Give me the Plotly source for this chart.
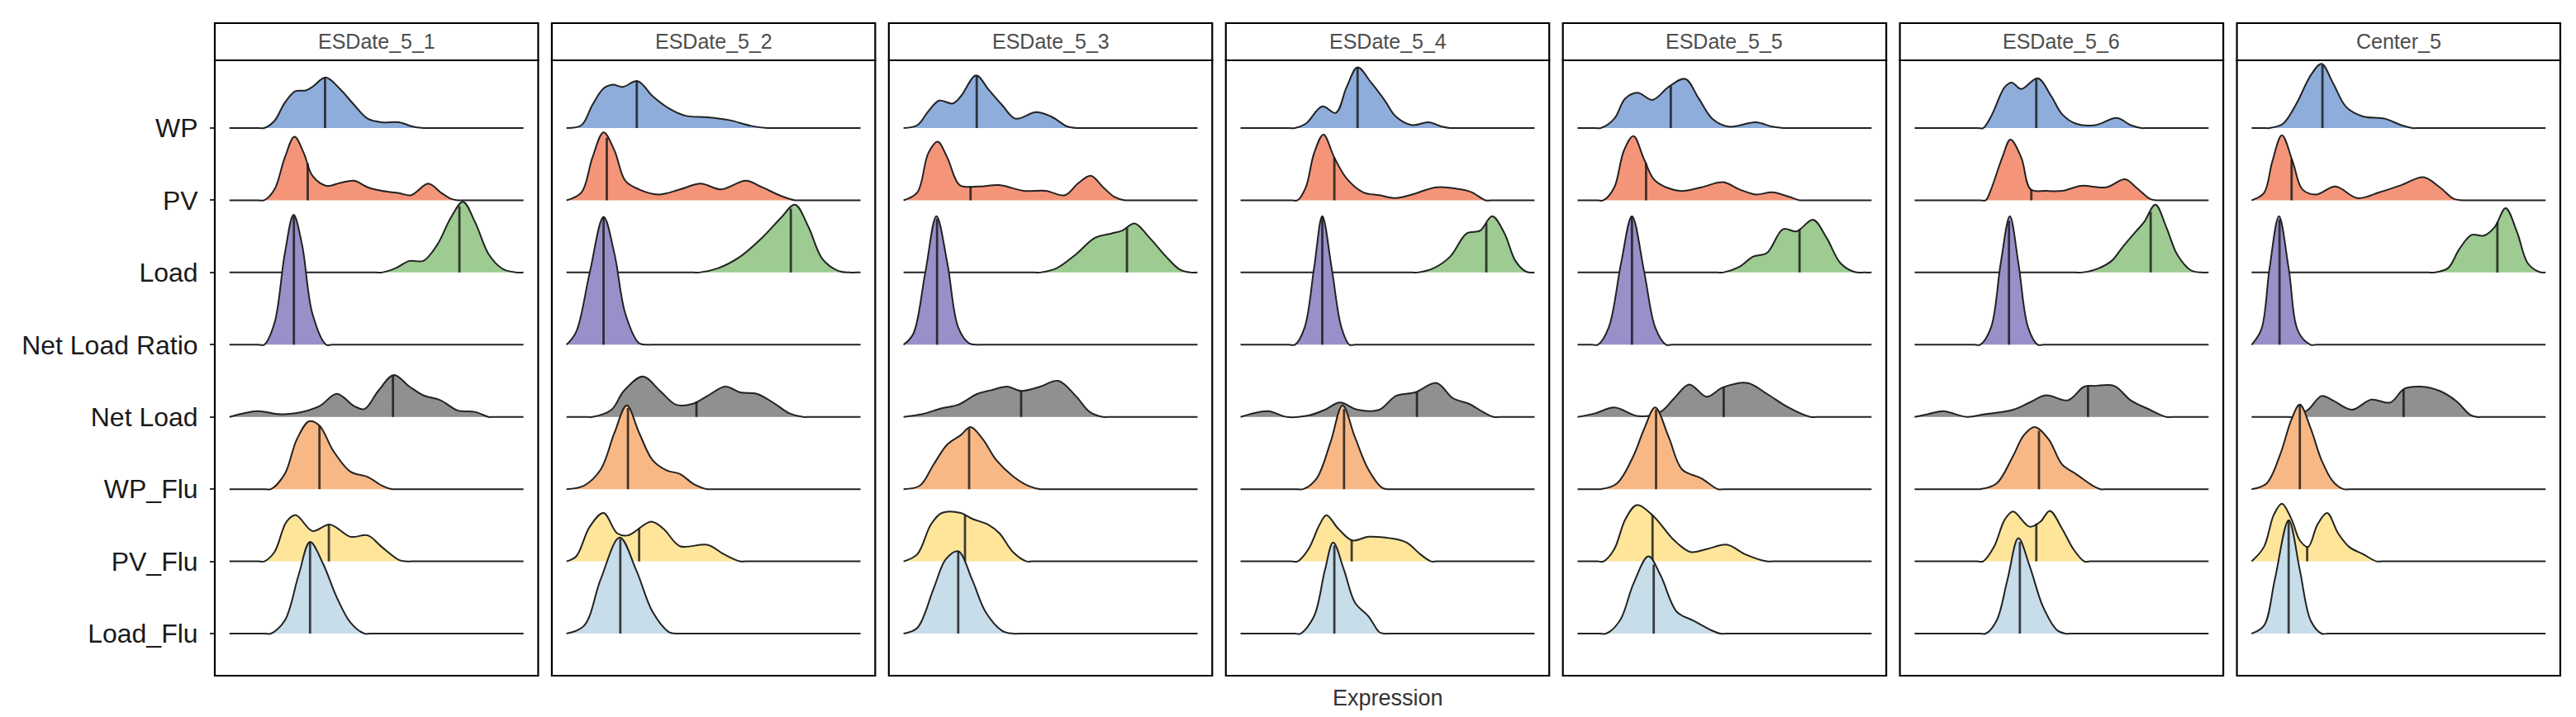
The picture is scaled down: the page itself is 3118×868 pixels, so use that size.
import numpy as np
import plotly.graph_objects as go

# facet titles and ridge rows (top to bottom)
panels = ["ESDate_5_1", "ESDate_5_2", "ESDate_5_3", "ESDate_5_4", "ESDate_5_5", "ESDate_5_6", "Center_5"]
rows = ["WP", "PV", "Load", "Net Load Ratio", "Net Load", "WP_Flu", "PV_Flu", "Load_Flu"]
colors = ["#8EADDB", "#F4957A", "#9DCB92", "#9B8FC9", "#909090", "#F8B886", "#FEE59A", "#C7DDEA"]

# density outlines: (expression, height in row units)
esdate_5_1 = {
    "WP": [(11.8, 0), (15.3, 0.1), (18.8, 0.35), (22.4, 0.51), (25.9, 0.52), (28.2, 0.57), (32.7, 0.70), (37.6, 0.54), (42.4, 0.32), (47, 0.13), (51.8, 0.08), (57.6, 0.08), (62.4, 0.02), (65.9, 0)],
    "PV": [(11.8, 0), (15.3, 0.15), (18.8, 0.59), (22.1, 0.88), (25.3, 0.65), (28.2, 0.34), (32.9, 0.2), (37.6, 0.24), (42.4, 0.27), (47, 0.18), (51.8, 0.13), (57.6, 0.10), (61.8, 0.07), (67.6, 0.23), (71.8, 0.11), (75.3, 0.02), (77.6, 0)],
    "Load": [(51.8, 0), (56.5, 0.06), (61.2, 0.16), (65.9, 0.16), (70.6, 0.38), (75.3, 0.76), (79.4, 0.98), (83.5, 0.70), (88.2, 0.25), (92.9, 0.05), (97.6, 0)],
    "Net Load Ratio": [(11.8, 0), (15.3, 0.30), (18.8, 1.26), (21.8, 1.80), (24.7, 1.38), (28.2, 0.43), (32.9, 0)],
    "Net Load": [(0, 0), (9.4, 0.08), (16.5, 0.04), (22.4, 0.05), (30.6, 0.15), (36.5, 0.32), (42.4, 0.15), (45.9, 0.11), (50.6, 0.36), (55.9, 0.58), (61.2, 0.42), (65.9, 0.30), (71.8, 0.23), (77.6, 0.09), (83.5, 0.07), (88.2, 0)],
    "WP_Flu": [(14.1, 0), (18.8, 0.21), (22.9, 0.69), (27.1, 0.94), (30.6, 0.88), (35.3, 0.53), (41.2, 0.24), (47, 0.17), (51.8, 0.05), (55.3, 0)],
    "PV_Flu": [(11.8, 0), (15.3, 0.13), (19.4, 0.55), (22.6, 0.64), (28.2, 0.42), (34.1, 0.51), (41.2, 0.34), (47, 0.36), (51.8, 0.2), (57.6, 0.02), (60, 0)],
    "Load_Flu": [(14.1, 0), (18.8, 0.18), (23.5, 0.81), (27.4, 1.27), (31.8, 0.97), (36.5, 0.50), (41.2, 0.15), (45.9, 0)],
}
esdate_5_2 = {
    "WP": [(0, 0), (5.1, 0.04), (8.8, 0.32), (12.6, 0.55), (15.8, 0.60), (19.1, 0.57), (24.2, 0.65), (29.3, 0.44), (34.9, 0.27), (40.5, 0.17), (47.9, 0.15), (55.3, 0.11), (62.8, 0.03), (68.4, 0)],
    "PV": [(0, 0), (5.1, 0.11), (8.8, 0.59), (12.6, 0.94), (16.3, 0.69), (20, 0.27), (24.7, 0.15), (31.2, 0.08), (38.6, 0.15), (45.6, 0.23), (52.6, 0.15), (61, 0.27), (66.5, 0.18), (73, 0.06), (77.7, 0)],
    "Load": [(45.1, 0), (51.6, 0.06), (59.1, 0.22), (66.5, 0.48), (73, 0.76), (77.7, 0.94), (82.3, 0.63), (87, 0.19), (92.6, 0.02), (96.3, 0)],
    "Net Load Ratio": [(0, 0), (3.3, 0.18), (7.9, 1.0), (12.6, 1.77), (16.3, 1.26), (20, 0.43), (24.7, 0.02), (27.4, 0)],
    "Net Load": [(8.8, 0), (15.3, 0.1), (19.5, 0.36), (26, 0.56), (31.6, 0.37), (37.2, 0.17), (42.8, 0.18), (47.9, 0.29), (54, 0.42), (59.1, 0.34), (64.7, 0.32), (70.2, 0.2), (75.8, 0.05), (80.5, 0)],
    "WP_Flu": [(0, 0), (6, 0.05), (11.6, 0.27), (16.3, 0.78), (20.5, 1.16), (24.7, 0.78), (29.3, 0.4), (34, 0.26), (38.6, 0.21), (43.3, 0.07), (47.9, 0)],
    "PV_Flu": [(0, 0), (3.3, 0.07), (7.9, 0.48), (12.6, 0.67), (17.2, 0.39), (20.9, 0.36), (28.8, 0.55), (33, 0.45), (38.6, 0.21), (47.9, 0.23), (53.5, 0.1), (59, 0)],
    "Load_Flu": [(0, 0), (6, 0.11), (11.6, 0.75), (18.1, 1.33), (23.7, 0.88), (29.3, 0.3), (34.9, 0.02), (37.7, 0)],
}
esdate_5_3 = {
    "WP": [(0, 0), (4.7, 0.04), (8.4, 0.23), (12.1, 0.38), (16.7, 0.34), (19.5, 0.44), (24.7, 0.73), (28.8, 0.54), (33.5, 0.32), (38.1, 0.13), (45.1, 0.22), (50.2, 0.16), (55.8, 0.02), (59.5, 0)],
    "PV": [(0, 0), (4.7, 0.11), (8.4, 0.65), (11.6, 0.81), (14.9, 0.59), (19.1, 0.21), (25.1, 0.19), (32.6, 0.21), (40.9, 0.13), (48.4, 0.13), (54.9, 0.07), (59.5, 0.24), (63.7, 0.34), (67.9, 0.18), (71.6, 0.05), (75.3, 0)],
    "Load": [(46.5, 0), (52.1, 0.06), (58.6, 0.25), (65.1, 0.48), (70.7, 0.54), (74.4, 0.58), (78.6, 0.68), (83.7, 0.48), (89.3, 0.22), (94, 0.04), (97.7, 0)],
    "Net Load Ratio": [(0, 0), (3.3, 0.15), (7.4, 1.0), (11.2, 1.78), (14.9, 1.13), (18.6, 0.24), (22.3, 0.02), (25, 0)],
    "Net Load": [(0, 0), (6.5, 0.04), (13, 0.12), (18.6, 0.17), (25.1, 0.32), (29.8, 0.37), (35.3, 0.42), (40, 0.36), (46.5, 0.42), (52.6, 0.5), (58.6, 0.29), (63.3, 0.07), (67.9, 0)],
    "WP_Flu": [(0, 0), (5.6, 0.05), (10.2, 0.34), (14.9, 0.62), (19.5, 0.75), (22.8, 0.86), (27, 0.69), (31.6, 0.4), (37.2, 0.18), (42.8, 0.04), (46.5, 0)],
    "PV_Flu": [(0, 0), (4.7, 0.1), (9.3, 0.51), (13, 0.67), (19.5, 0.67), (23.3, 0.59), (28.8, 0.51), (32.6, 0.39), (37.2, 0.13), (41.9, 0)],
    "Load_Flu": [(0, 0), (4.7, 0.08), (10.2, 0.62), (14.4, 1.03), (18.6, 1.14), (23.3, 0.75), (27.9, 0.3), (33.5, 0.04), (37.2, 0)],
}
esdate_5_4 = {
    "WP": [(18.5, 0), (22.2, 0.06), (27.8, 0.3), (32.4, 0.21), (36.1, 0.57), (39.8, 0.84), (44.4, 0.63), (49.1, 0.38), (52.8, 0.16), (58.3, 0.04), (63.9, 0.08), (68.5, 0.02), (71.3, 0)],
    "PV": [(19.4, 0), (22.2, 0.18), (25, 0.65), (28.2, 0.91), (31.9, 0.59), (36.1, 0.3), (41.7, 0.11), (47.2, 0.07), (52.8, 0.03), (58.3, 0.08), (66.7, 0.18), (75, 0.15), (78.7, 0.11), (83.3, 0)],
    "Load": [(60.2, 0), (65.7, 0.06), (71.3, 0.22), (76.9, 0.54), (81.5, 0.58), (85.6, 0.78), (89.8, 0.54), (93.5, 0.16), (97.2, 0.01), (100, 0)],
    "Net Load Ratio": [(18.5, 0), (21.8, 0.24), (25, 1.06), (27.8, 1.78), (31, 1.06), (34.3, 0.24), (37, 0)],
    "Net Load": [(0, 0), (9.3, 0.08), (15.7, 0), (23.1, 0.02), (28.7, 0.1), (33.8, 0.2), (39.8, 0.1), (47.2, 0.1), (52.8, 0.29), (59.3, 0.34), (66.7, 0.47), (72.2, 0.26), (77.8, 0.18), (82.4, 0.07), (86.1, 0)],
    "WP_Flu": [(21.3, 0), (25.9, 0.15), (30.6, 0.65), (34.7, 1.16), (38.9, 0.72), (43.5, 0.27), (48.1, 0.02), (50, 0)],
    "PV_Flu": [(19.4, 0), (23.1, 0.17), (26.9, 0.51), (29.2, 0.64), (33.3, 0.45), (38, 0.29), (43.5, 0.34), (50.9, 0.32), (56.5, 0.26), (61.1, 0.1), (64.8, 0)],
    "Load_Flu": [(20.4, 0), (25, 0.24), (28.7, 0.88), (31.5, 1.26), (35.2, 0.88), (38.9, 0.43), (43.5, 0.24), (47.2, 0.02), (49, 0)],
}
esdate_5_5 = {
    "WP": [(7.9, 0), (12.5, 0.13), (16.2, 0.41), (20.4, 0.49), (25.5, 0.39), (31, 0.57), (36.6, 0.68), (41.2, 0.41), (45.8, 0.13), (51.4, 0.02), (60.6, 0.08), (66.2, 0.02), (70, 0)],
    "PV": [(8.8, 0), (12.5, 0.18), (15.7, 0.68), (19, 0.89), (22.7, 0.56), (26.4, 0.27), (34.7, 0.13), (42.1, 0.18), (49.5, 0.25), (55.1, 0.15), (60.6, 0.08), (66.2, 0.11), (71.8, 0.05), (75.5, 0)],
    "Load": [(49.5, 0), (55.1, 0.08), (59.7, 0.22), (64.4, 0.27), (69.9, 0.6), (74.5, 0.57), (80.1, 0.73), (84.7, 0.48), (89.4, 0.13), (94, 0.01), (97.7, 0)],
    "Net Load Ratio": [(6.9, 0), (10.6, 0.24), (14.8, 1.13), (18.5, 1.78), (22.7, 1.0), (26.4, 0.24), (30.1, 0)],
    "Net Load": [(0, 0), (6, 0.05), (12.5, 0.13), (20.8, 0.01), (28.2, 0.07), (32.9, 0.26), (38, 0.45), (43.9, 0.28), (49.5, 0.41), (57.9, 0.47), (64.4, 0.32), (71.8, 0.13), (79.2, 0)],
    "WP_Flu": [(7.9, 0), (13.4, 0.08), (19, 0.46), (22.7, 0.84), (26.4, 1.13), (31, 0.72), (35.6, 0.27), (42.1, 0.15), (47.7, 0)],
    "PV_Flu": [(8.8, 0), (12.5, 0.17), (16.2, 0.58), (20.1, 0.78), (25.5, 0.64), (32.9, 0.29), (38.4, 0.13), (43.9, 0.17), (50.9, 0.23), (56.9, 0.1), (64.4, 0)],
    "Load_Flu": [(9.7, 0), (14.4, 0.18), (19, 0.69), (24.1, 1.07), (28.2, 0.81), (33.8, 0.3), (39.4, 0.18), (45.8, 0.04), (48.6, 0)],
}
esdate_5_6 = {
    "WP": [(23.3, 0), (26, 0.16), (30.7, 0.57), (33, 0.63), (36.3, 0.54), (41.9, 0.69), (46.5, 0.44), (50.2, 0.19), (54.9, 0.06), (61.4, 0.04), (68.8, 0.14), (73.5, 0.04), (77.2, 0)],
    "PV": [(24.2, 0), (26, 0.15), (29.8, 0.59), (32.6, 0.84), (36.3, 0.59), (39.5, 0.15), (44.7, 0.13), (50.2, 0.13), (56.7, 0.2), (65.1, 0.18), (71.6, 0.29), (75.3, 0.18), (80, 0.02), (81.9, 0)],
    "Load": [(56.7, 0), (61.4, 0.04), (67, 0.16), (70.7, 0.35), (75.3, 0.57), (78.1, 0.7), (81.9, 0.94), (85.6, 0.63), (89.3, 0.25), (94, 0.03), (97.7, 0)],
    "Net Load Ratio": [(22.3, 0), (26, 0.24), (29.3, 1.13), (32.4, 1.78), (35.3, 1.13), (38.6, 0.24), (41.9, 0)],
    "Net Load": [(0, 0), (4.7, 0.04), (9.8, 0.08), (17.7, 0), (24.2, 0.04), (33.5, 0.1), (39.1, 0.2), (44.7, 0.3), (52.1, 0.23), (57.7, 0.42), (61.4, 0.43), (67.9, 0.43), (73.5, 0.23), (80, 0.1), (85.6, 0)],
    "WP_Flu": [(22.3, 0), (27.9, 0.08), (33.5, 0.46), (37.2, 0.75), (40.9, 0.86), (45.6, 0.69), (50.2, 0.34), (54.9, 0.21), (60.5, 0.05), (63.3, 0)],
    "PV_Flu": [(23.3, 0), (27, 0.2), (30.7, 0.58), (33.5, 0.69), (39.1, 0.48), (42.8, 0.55), (46, 0.70), (50.2, 0.45), (54, 0.17), (57.7, 0)],
    "Load_Flu": [(24.2, 0), (27.9, 0.18), (31.6, 0.75), (35.3, 1.32), (39.1, 0.94), (43.7, 0.37), (48.4, 0.05), (51.2, 0)],
}
center_5 = {
    "WP": [(6.1, 0), (10.7, 0.06), (15.4, 0.35), (20.1, 0.73), (23.8, 0.89), (27.6, 0.63), (32.2, 0.29), (37.9, 0.16), (45.3, 0.13), (50.9, 0.04), (54.7, 0)],
    "PV": [(0, 0), (4.2, 0.1), (7, 0.53), (10.3, 0.9), (14, 0.53), (17.3, 0.15), (21.9, 0.08), (28.5, 0.19), (36, 0.03), (43.5, 0.11), (50.9, 0.21), (58.4, 0.32), (64, 0.18), (68.7, 0.02), (71.5, 0)],
    "Load": [(62.1, 0), (66.8, 0.06), (70.6, 0.32), (74.8, 0.52), (79, 0.51), (82.7, 0.63), (86.4, 0.89), (90.2, 0.57), (93.9, 0.13), (97.7, 0.01), (100, 0)],
    "Net Load Ratio": [(0, 0), (3.3, 0.21), (6.1, 1.06), (9.3, 1.78), (12.6, 1.06), (15.9, 0.18), (20.1, 0)],
    "Net Load": [(14.5, 0), (19.2, 0.1), (23.8, 0.29), (27.6, 0.23), (34.1, 0.1), (40.7, 0.24), (47.2, 0.2), (51.9, 0.39), (57.5, 0.42), (64, 0.36), (69.6, 0.22), (74.3, 0.03), (76.6, 0)],
    "WP_Flu": [(0, 0), (5.1, 0.08), (9.8, 0.49), (13.6, 0.97), (16.4, 1.17), (20.1, 0.84), (23.8, 0.4), (27.6, 0.11), (31.3, 0)],
    "PV_Flu": [(0, 0), (4.2, 0.2), (7.5, 0.64), (10.3, 0.8), (13.6, 0.58), (16.4, 0.29), (19.2, 0.2), (22.4, 0.51), (25.7, 0.67), (29.4, 0.39), (33.2, 0.2), (37.9, 0.1), (42.5, 0)],
    "Load_Flu": [(0, 0), (4.2, 0.11), (7.9, 0.75), (12.6, 1.57), (16.4, 0.88), (20.1, 0.18), (23.8, 0)],
}
curves = [esdate_5_1, esdate_5_2, esdate_5_3, esdate_5_4, esdate_5_5, esdate_5_6, center_5]

# medians (vertical lines), one value per panel
median_wp = [32.5, 23.9, 24.9, 39.8, 31.7, 41.4, 24.1]
median_pv = [26.6, 13.7, 22.8, 31.9, 23.3, 39.7, 13.6]
median_load = [78.2, 76.3, 76.0, 83.6, 75.5, 80.3, 83.6]
median_nlr = [21.9, 12.6, 11.4, 27.8, 18.5, 32.1, 9.5]
median_netload = [55.6, 44.2, 40.0, 60.0, 49.7, 59.0, 51.7]
median_wpflu = [30.6, 20.9, 22.3, 35.2, 26.7, 42.3, 16.4]
median_pvflu = [33.8, 24.7, 20.9, 37.8, 25.5, 41.4, 18.9]
median_loadflu = [27.4, 18.3, 18.6, 31.9, 25.9, 35.8, 12.6]
medians = [median_wp, median_pv, median_load, median_nlr, median_netload,
           median_wpflu, median_pvflu, median_loadflu]

FONT = "Liberation Sans, Arial, sans-serif"
fig = go.Figure()


def pad(pts):
    # density is flat zero outside its support; a close zero point keeps the spline from dipping
    start, end = pts[0][0], pts[-1][0]
    if start > 3:
        pts = [(0, 0), (start - 2, 0)] + pts
    elif start > 0:
        pts = [(0, 0)] + pts
    if end < 97:
        pts = pts + [(end + 2, 0), (100, 0)]
    elif end < 100:
        pts = pts + [(100, 0)]
    return pts


for p in range(len(panels)):
    xa = "x" if p == 0 else "x%d" % (p + 1)
    for r, name in enumerate(rows):
        base = len(rows) - r
        pts = pad(curves[p][name])
        xs = [a for a, b in pts]
        hs = [b for a, b in pts]
        fig.add_trace(go.Scatter(x=[0, 100], y=[base, base], mode="lines",
                                 line=dict(width=0), xaxis=xa, yaxis="y",
                                 hoverinfo="skip", showlegend=False))
        fig.add_trace(go.Scatter(x=xs, y=[base + h for h in hs], mode="lines",
                                 fill="tonexty", fillcolor=colors[r],
                                 line=dict(color="#222222", width=2, shape="spline", smoothing=1),
                                 xaxis=xa, yaxis="y", showlegend=False, name=name))
        m = medians[r][p]
        fig.add_trace(go.Scatter(x=[m, m], y=[base, base + np.interp(m, xs, hs)], mode="lines",
                                 line=dict(color="rgba(20,20,20,0.8)", width=2.8),
                                 xaxis=xa, yaxis="y", hoverinfo="skip", showlegend=False))

pw, gap = 391.5, 16.5
W = 7 * pw + 6 * gap
strip_h = 45 / 745
layout = dict(
    width=3118, height=868,
    margin=dict(l=252, r=3118 - 252 - W, t=65, b=58, pad=0),
    plot_bgcolor="white", paper_bgcolor="white",
    font=dict(family=FONT),
    yaxis=dict(range=[0.417, 8.938], tickvals=list(range(len(rows), 0, -1)), ticktext=rows,
               ticks="outside", ticklen=5, tickwidth=1.5, tickcolor="#333333",
               tickfont=dict(size=32, color="#1a1a1a"), ticklabelstandoff=8,
               showgrid=False, zeroline=False, showline=False, anchor="x", fixedrange=True),
)
shapes = []
annotations = []
for p in range(len(panels)):
    key = "xaxis" if p == 0 else "xaxis%d" % (p + 1)
    ref = "x" if p == 0 else "x%d" % (p + 1)
    x0 = p * (pw + gap) / W
    layout[key] = dict(domain=[x0, min(1.0, x0 + pw / W)], range=[-5, 105], anchor="y",
                       showticklabels=False, ticks="", showgrid=False,
                       zeroline=False, showline=False, fixedrange=True)
    shapes.append(dict(type="rect", xref=ref + " domain", yref="y domain",
                       x0=0, x1=1, y0=0, y1=1, line=dict(color="black", width=2.2)))
    shapes.append(dict(type="rect", xref=ref + " domain", yref="y domain",
                       x0=0, x1=1, y0=1, y1=1 + strip_h, fillcolor="white",
                       line=dict(color="black", width=2.2)))
    annotations.append(dict(text=panels[p], xref=ref + " domain", yref="y domain",
                            x=0.5, y=1 + strip_h / 2, showarrow=False,
                            xanchor="center", yanchor="middle",
                            font=dict(size=25, color="#4d4d4d", family=FONT)))

annotations.append(dict(text="Expression", xref="paper", yref="paper", x=0.5, y=-27 / 745,
                        showarrow=False, xanchor="center", yanchor="middle",
                        font=dict(size=27, color="#333333", family=FONT)))
layout["shapes"] = shapes
layout["annotations"] = annotations
fig.update_layout(**layout)

fig.write_html("out.html")
